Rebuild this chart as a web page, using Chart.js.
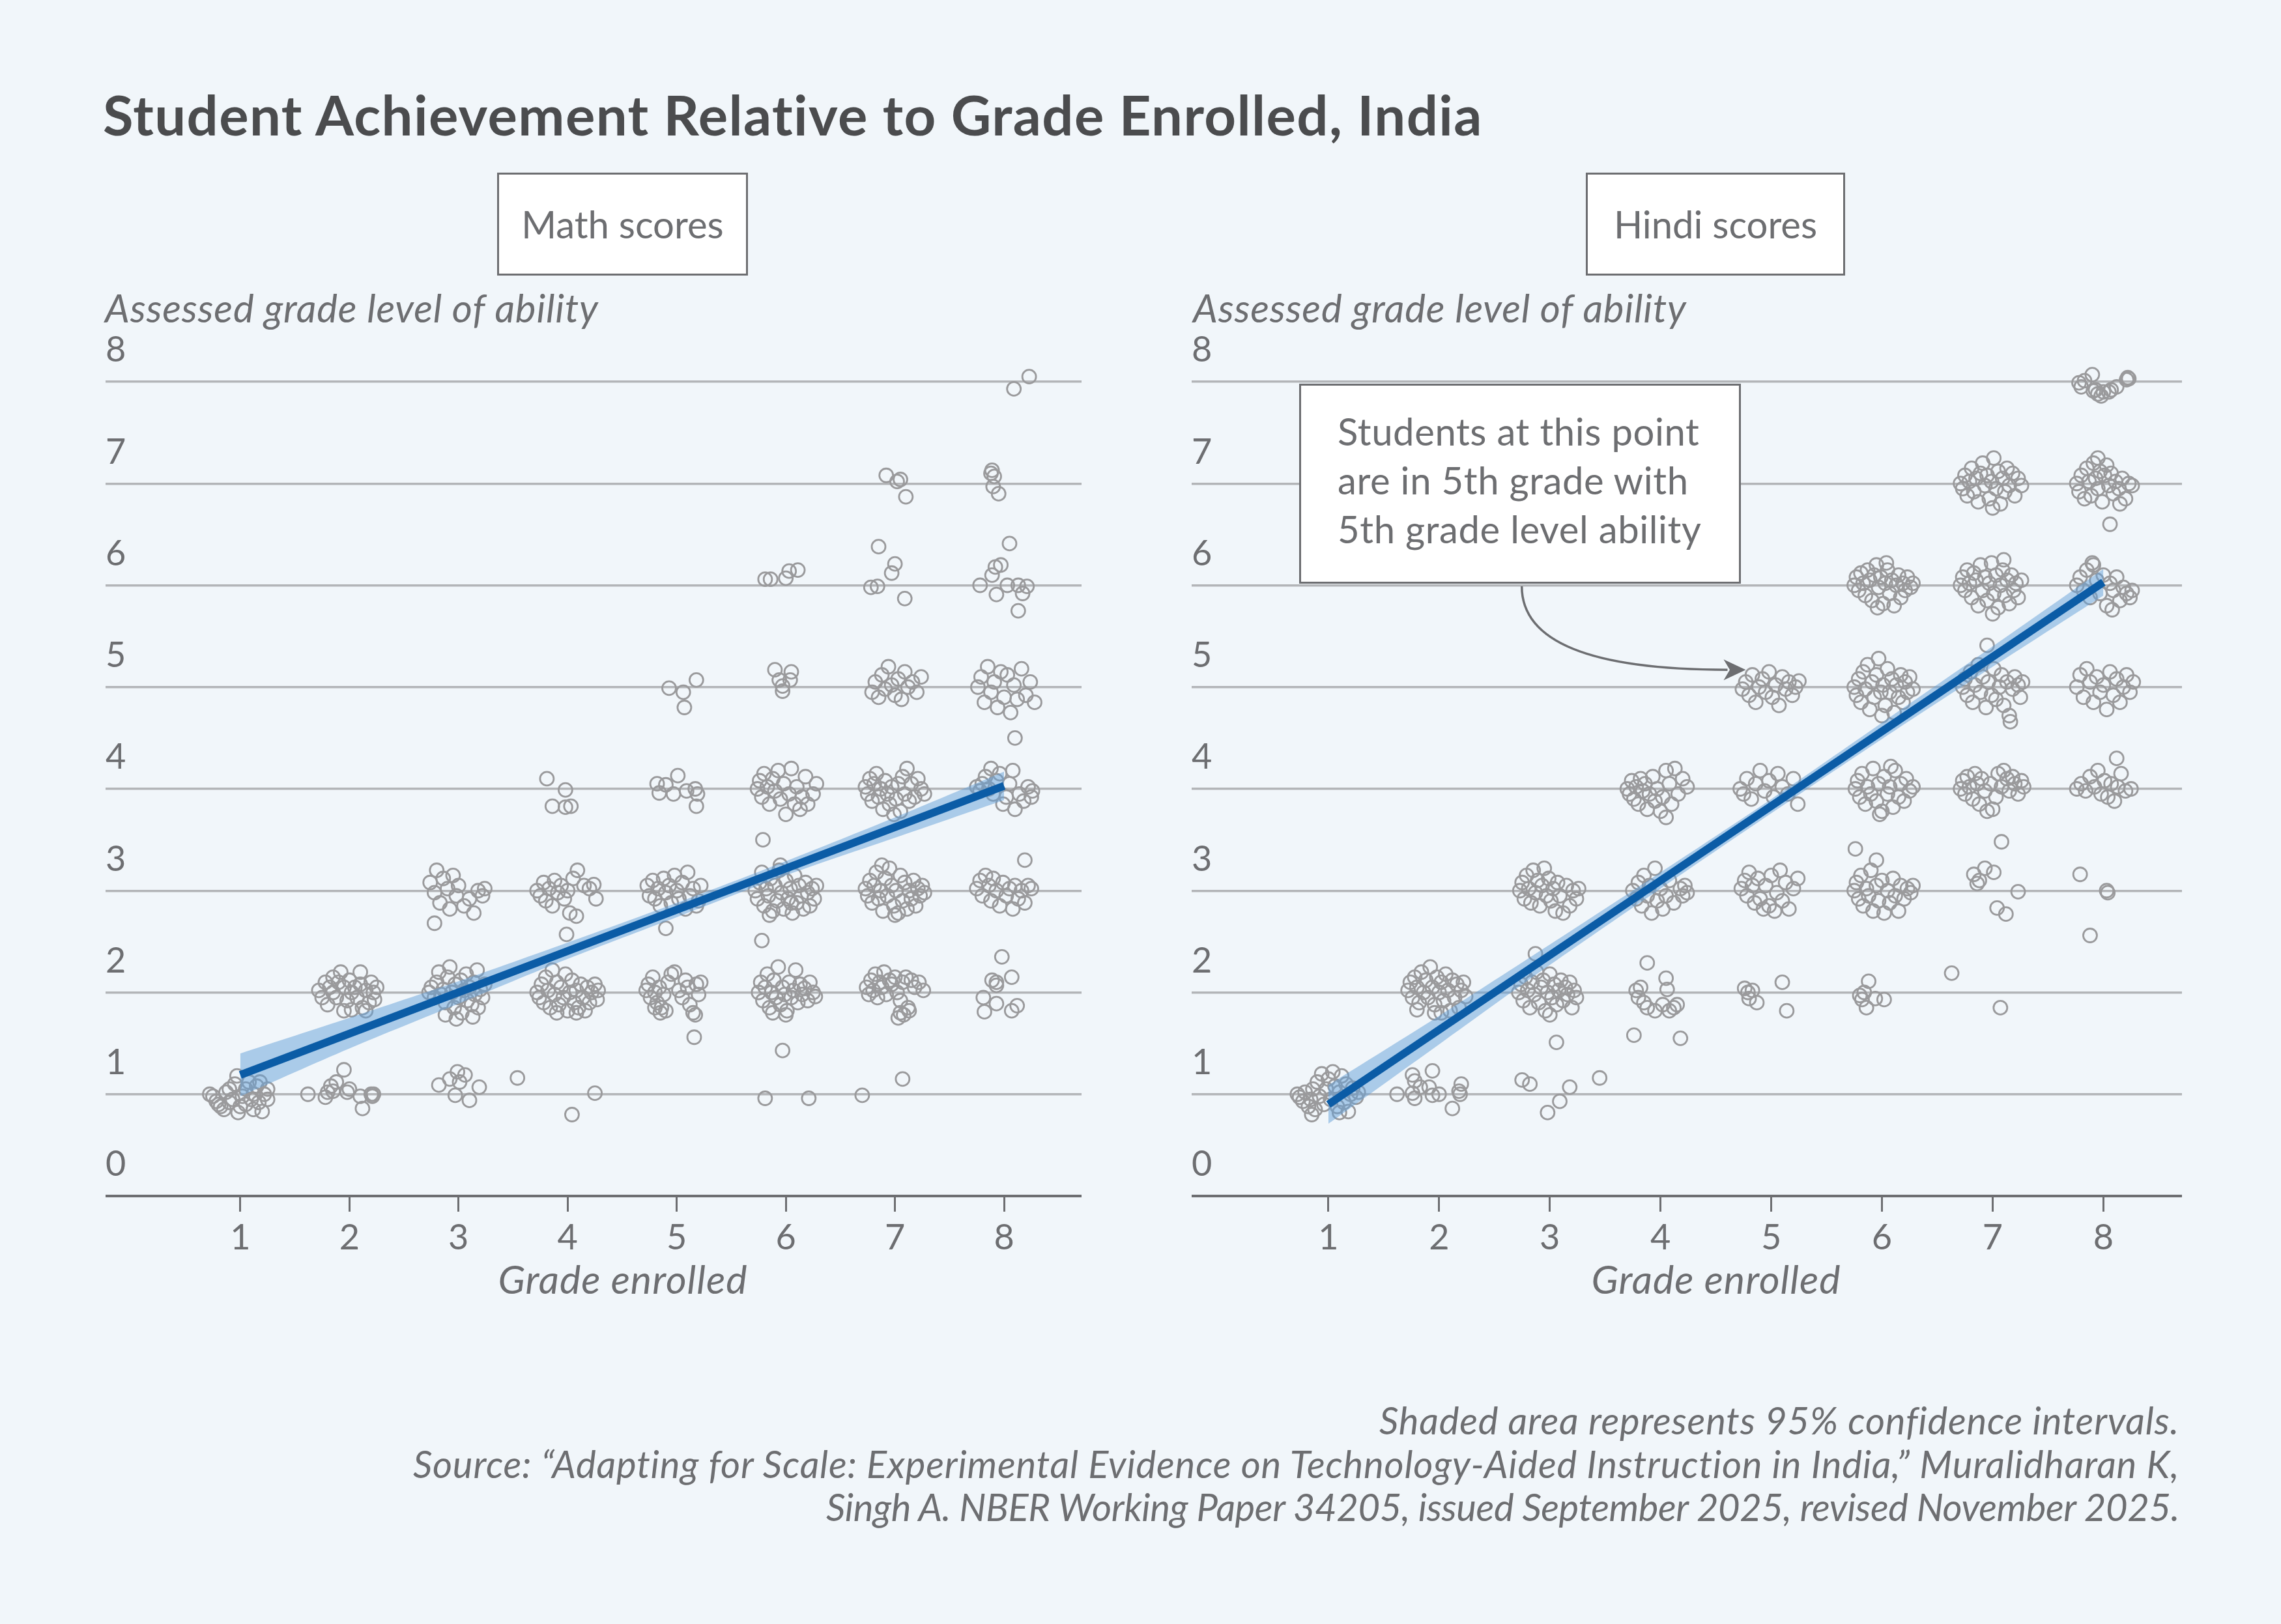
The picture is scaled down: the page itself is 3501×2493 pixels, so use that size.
<!DOCTYPE html>
<html>
<head>
<meta charset="utf-8">
<title>Student Achievement Relative to Grade Enrolled, India</title>
<script src="https://cdn.jsdelivr.net/npm/chart.js@4.4.1/dist/chart.umd.min.js"></script>
<style>
  body { margin: 0; background: #f1f6fa; }
  #page { position: relative; width: 3501px; height: 2493px; background: #f1f6fa; overflow: hidden;
          font-family: Lato, 'Open Sans', sans-serif; color: #6d6e71; }
  .txt { position: absolute; white-space: nowrap; line-height: 1.2; }
  #title { left: 158px; top: 124px; font-size: 85px; font-weight: 700; color: #4b4c4e; letter-spacing: 1.4px; }
  .panel { position: absolute; top: 265px; height: 158px; box-sizing: border-box; border: 3px solid #6d6e71;
           background: #fff; display: flex; align-items: center; justify-content: center;
           font-size: 58px; line-height: 1.2; white-space: nowrap; }
  .ytitle { top: 436px; font-size: 60px; font-style: italic; letter-spacing: 0.8px; }
  .xtitle { top: 1926px; font-size: 61px; font-style: italic; letter-spacing: 1px; transform: translateX(-50%); }
  canvas { position: absolute; }
  #note { position: absolute; left: 1994px; top: 589px; width: 678px; height: 307px; box-sizing: border-box;
          border: 3px solid #6d6e71; background: #fff; padding: 32px 0 0 56px;
          font-size: 58px; line-height: 75px; letter-spacing: 0.6px; white-space: nowrap; }
  #footer { position: absolute; right: 156px; top: 2147px; text-align: right; font-size: 58px;
            line-height: 66.5px; font-style: italic; letter-spacing: 0.8px; white-space: nowrap; }
  #footer .tight { letter-spacing: -0.4px; }
</style>
</head>
<body>
<div id="page">
  <div id="title" class="txt">Student Achievement Relative to Grade Enrolled, India</div>

  <div class="panel" style="left:763px; width:385px;">Math scores</div>
  <div class="panel" style="left:2434px; width:398px;">Hindi scores</div>

  <div class="txt ytitle" style="left:161px;">Assessed grade level of ability</div>
  <div class="txt ytitle" style="left:1831px;">Assessed grade level of ability</div>

  <canvas id="mathChart" width="1498" height="1466" style="left:162px; top:500px;"></canvas>
  <canvas id="hindiChart" width="1520" height="1466" style="left:1829px; top:500px;"></canvas>

  <div class="txt xtitle" style="left:956px;">Grade enrolled</div>
  <div class="txt xtitle" style="left:2634px;">Grade enrolled</div>

  <div id="note">Students at this point<br>are in 5th grade with<br>5th grade level ability</div>

  <div id="footer">Shaded area represents 95% confidence intervals.<br>Source: “Adapting for Scale: Experimental Evidence on Technology-Aided Instruction in India,” Muralidharan K,<br><span class="tight">Singh A. NBER Working Paper 34205, issued September 2025, revised November 2025.</span></div>
</div>

<script>
// axis values
const gradeTicks = [1, 2, 3, 4, 5, 6, 7, 8];
const levelTicks = [0, 1, 2, 3, 4, 5, 6, 7, 8];

// Math scores: [grade enrolled (jittered), assessed level (jittered)]
const mathPoints = [
  // grade 1
  [0.72,1.0],[0.75,0.98],[0.78,0.93],[0.8,0.9],[0.82,0.88],[0.85,0.85],[0.87,1.02],[0.9,1.05],[0.9,0.92],[0.93,0.95],
  [0.95,1.1],[0.97,1.18],[1.0,0.88],[1.02,0.98],[1.05,1.05],[1.05,0.9],[1.08,1.12],[1.1,0.95],[1.12,1.0],[1.15,1.08],
  [1.17,0.92],[1.2,0.83],[1.22,1.0],[1.25,0.95],[1.25,1.05],[1.12,0.85],[0.98,0.82],[1.18,1.12],
  // grade 2
  [1.62,1.0],[1.78,0.97],[1.8,1.02],[1.83,1.08],[1.85,1.03],[1.88,1.12],[1.95,1.24],[1.98,1.02],[2.0,1.05],[2.1,0.98],
  [2.12,0.86],[2.2,1.0],[2.22,1.0],[2.21,0.98],
  [1.72,2.02],[1.75,1.95],[1.78,2.1],[1.8,1.88],[1.82,2.05],[1.85,2.15],[1.85,2.0],[1.88,1.95],[1.9,2.1],[1.92,2.2],
  [1.95,2.05],[1.98,1.92],[2.0,2.12],[2.02,2.0],[2.05,2.05],[2.07,1.95],[2.1,2.2],[2.1,2.08],[2.12,1.85],[2.15,2.02],
  [2.15,1.82],[2.18,1.9],[2.2,2.1],[2.22,2.0],[2.25,2.05],[2.23,1.93],[1.95,1.82],[2.02,1.83],
  // grade 3
  [2.82,1.09],[2.92,1.15],[2.99,1.22],[3.01,1.12],[3.06,1.19],[2.97,0.99],[3.1,0.94],[3.19,1.07],[3.54,1.16],
  [2.73,2.0],[2.75,2.05],[2.78,1.95],[2.8,2.1],[2.82,2.2],[2.84,1.98],[2.86,2.03],[2.88,1.9],[2.9,2.15],[2.92,2.25],
  [2.94,2.0],[2.96,1.85],[2.97,2.08],[3.0,1.95],[3.02,2.12],[3.03,1.8],[3.05,2.02],[3.07,2.18],[3.08,1.92],[3.1,2.05],
  [3.12,1.88],[3.14,2.1],[3.15,1.98],[3.17,2.22],[3.18,1.85],[3.2,2.03],[3.22,1.95],[3.24,2.08],[2.88,1.78],[2.98,1.74],[3.13,1.76],
  [2.74,3.08],[2.78,2.98],[2.8,3.2],[2.83,2.88],[2.86,3.12],[2.9,3.02],[2.92,2.82],[2.95,3.15],[2.98,2.95],[3.0,3.05],
  [3.05,2.85],[3.1,2.92],[3.14,2.78],[3.18,3.0],[3.22,2.95],[3.24,3.02],[2.78,2.68],
  // grade 4
  [4.04,0.8],[4.25,1.01],
  [3.72,2.0],[3.74,1.95],[3.76,2.08],[3.78,1.9],[3.8,2.15],[3.82,2.02],[3.84,1.85],[3.86,2.22],[3.88,1.98],[3.9,2.1],
  [3.92,1.88],[3.94,2.05],[3.96,1.95],[3.98,2.18],[4.0,1.82],[4.02,2.0],[4.04,2.12],[4.06,1.9],[4.08,2.02],[4.1,1.85],
  [4.12,2.08],[4.14,1.95],[4.16,1.82],[4.18,2.05],[4.2,1.9],[4.22,2.0],[4.25,2.08],[4.27,1.93],[4.28,2.02],[3.9,1.8],[4.08,1.8],
  [3.72,3.0],[3.75,2.95],[3.78,3.08],[3.8,2.9],[3.83,3.02],[3.86,2.85],[3.88,3.1],[3.91,2.98],[3.94,3.05],[3.97,2.92],
  [4.0,3.0],[4.02,2.78],[4.05,3.12],[4.08,2.75],[4.09,3.2],[4.15,3.05],[4.2,3.02],[4.24,3.06],[4.26,2.92],[3.99,2.57],
  [3.81,4.1],[3.98,3.99],[3.86,3.83],[3.98,3.82],[4.03,3.83],
  // grade 5
  [4.72,2.02],[4.74,2.08],[4.76,1.95],[4.78,2.15],[4.8,2.0],[4.82,1.9],[4.84,2.05],[4.86,1.85],[4.88,1.98],[4.9,1.82],
  [4.92,2.1],[4.95,2.18],[4.98,2.2],[5.02,2.02],[5.05,1.95],[5.08,2.12],[5.1,2.05],[5.12,1.88],[5.15,1.8],[5.17,1.78],
  [5.18,2.08],[5.2,1.98],[5.22,2.1],[4.8,1.85],[4.85,1.8],[5.16,1.56],
  [4.73,3.05],[4.75,2.95],[4.78,3.1],[4.8,2.92],[4.83,3.02],[4.85,2.85],[4.88,3.12],[4.9,2.98],[4.93,3.05],[4.95,2.88],
  [4.98,3.15],[5.0,3.0],[5.02,2.92],[5.05,3.08],[5.08,2.82],[5.1,3.18],[5.12,2.95],[5.15,3.02],[5.18,2.85],[5.2,2.9],
  [5.22,3.05],[4.9,2.63],
  [4.82,4.05],[4.9,4.04],[5.01,4.13],[4.84,3.96],[4.97,3.95],[5.09,3.98],[5.17,4.0],[5.19,3.95],[5.18,3.83],
  [4.93,4.99],[5.06,4.95],[5.18,5.07],[5.07,4.8],
  // grade 6
  [5.81,0.96],[6.21,0.96],[5.97,1.43],
  [5.75,2.0],[5.77,2.1],[5.79,1.92],[5.81,2.05],[5.83,2.18],[5.85,1.85],[5.87,2.0],[5.89,2.12],[5.91,1.95],[5.93,2.25],
  [5.95,1.88],[5.97,2.05],[5.99,1.98],[6.01,1.82],[6.03,2.1],[6.05,1.95],[6.07,2.02],[6.09,2.22],[6.11,1.9],[6.13,2.08],
  [6.15,1.98],[6.17,2.04],[6.2,1.92],[6.22,2.1],[6.25,2.0],[6.27,1.96],[5.88,1.8],[6.0,1.78],[5.78,2.51],
  [5.72,3.0],[5.74,2.92],[5.76,3.08],[5.78,3.18],[5.8,2.85],[5.82,3.02],[5.84,2.95],[5.86,3.12],[5.88,2.8],[5.9,3.05],
  [5.92,2.9],[5.94,3.2],[5.96,2.98],[5.98,2.82],[6.0,3.1],[6.02,2.92],[6.04,3.02],[6.06,2.78],[6.08,3.15],[6.1,2.88],
  [6.12,3.05],[6.14,2.95],[6.16,2.82],[6.18,3.08],[6.2,2.98],[6.22,2.85],[6.24,3.02],[6.26,2.92],[6.28,3.05],[5.85,2.76],
  [5.95,3.25],[6.05,2.88],[5.79,3.5],
  [5.74,4.0],[5.76,4.08],[5.78,3.92],[5.8,4.15],[5.83,4.02],[5.85,3.85],[5.88,4.1],[5.9,3.98],[5.93,4.18],[5.95,3.9],
  [5.98,4.05],[6.0,3.75],[6.03,3.95],[6.05,4.2],[6.08,3.85],[6.1,4.02],[6.13,3.8],[6.15,3.92],[6.18,4.12],[6.2,3.85],
  [6.25,3.95],[6.28,4.05],
  [5.9,5.17],[6.05,5.15],[5.94,5.07],[6.04,5.07],[5.97,5.01],[5.97,4.96],
  [5.81,6.06],[5.86,6.06],[6.0,6.07],[6.03,6.14],[6.11,6.15],
  // grade 7
  [6.7,0.99],[7.07,1.15],
  [6.74,2.05],[6.76,1.98],[6.78,2.12],[6.8,2.02],[6.82,2.18],[6.84,1.95],[6.86,2.1],[6.88,2.05],[6.9,2.2],[6.92,1.98],
  [6.95,2.12],[6.97,2.08],[7.0,2.15],[7.02,2.0],[7.05,1.92],[7.07,2.1],[7.1,2.15],[7.12,1.85],[7.15,2.12],[7.18,2.05],
  [7.22,2.1],[7.26,2.02],[7.05,1.8],[7.08,1.78],[7.03,1.75],[7.13,1.82],
  [6.73,3.02],[6.75,2.95],[6.77,3.1],[6.79,2.88],[6.81,3.05],[6.83,3.18],[6.85,2.92],[6.87,3.0],[6.89,2.8],[6.91,3.12],
  [6.93,2.95],[6.95,3.22],[6.97,3.05],[6.99,2.85],[7.01,3.0],[7.03,2.78],[7.05,3.15],[7.07,2.9],[7.09,3.08],[7.11,2.82],
  [7.13,3.0],[7.15,2.92],[7.17,3.1],[7.19,2.85],[7.21,3.02],[7.23,2.95],[7.25,3.05],[7.27,2.98],[6.88,3.25],[7.0,2.76],
  [6.73,4.02],[6.75,3.95],[6.77,4.1],[6.79,3.88],[6.81,4.05],[6.83,4.15],[6.85,3.92],[6.87,4.0],[6.89,3.8],[6.91,4.08],
  [6.93,3.95],[6.95,3.85],[6.97,4.02],[6.99,3.75],[7.01,3.9],[7.03,4.05],[7.05,3.78],[7.07,4.12],[7.09,3.95],[7.11,4.2],
  [7.13,3.88],[7.15,4.05],[7.18,3.92],[7.21,4.1],[7.24,4.0],[7.27,3.95],
  [6.79,4.95],[6.82,5.05],[6.85,4.9],[6.88,5.12],[6.91,4.98],[6.94,5.2],[6.97,5.02],[7.0,4.92],[7.03,5.08],[7.06,4.88],
  [7.09,5.15],[7.12,5.0],[7.16,5.05],[7.2,4.95],[7.24,5.1],
  [6.85,6.38],[7.0,6.21],[6.97,6.12],[6.78,5.98],[6.84,5.99],[7.09,5.87],
  [6.92,7.08],[7.02,7.02],[7.05,7.04],[7.1,6.87],
  // grade 8
  [7.98,2.35],[7.93,2.1],[7.89,2.12],[7.93,2.07],[8.07,2.15],[7.81,1.95],[7.93,1.89],[8.12,1.87],[7.82,1.81],[8.07,1.82],
  [7.75,3.02],[7.78,3.1],[7.8,2.95],[7.83,3.15],[7.86,3.05],[7.88,2.9],[7.9,3.12],[7.93,3.0],[7.96,2.85],[7.99,3.08],
  [8.02,2.95],[8.05,3.02],[8.08,2.82],[8.1,3.05],[8.13,2.92],[8.16,3.0],[8.19,2.88],[8.22,3.05],[8.25,3.02],[8.19,3.3],
  [7.75,4.02],[7.78,3.98],[7.8,4.05],[7.83,4.12],[7.86,4.0],[7.88,4.2],[7.9,3.95],[7.93,4.08],[7.96,4.15],[7.99,3.85],
  [8.02,3.92],[8.05,4.05],[8.08,4.18],[8.1,3.8],[8.14,3.95],[8.18,3.88],[8.22,4.02],[8.25,3.92],[8.26,3.98],[8.1,4.5],
  [7.76,5.0],[7.79,5.1],[7.82,4.85],[7.85,5.2],[7.88,4.95],[7.91,5.05],[7.94,4.8],[7.97,5.15],[8.0,4.9],[8.03,5.12],
  [8.06,4.75],[8.09,5.02],[8.12,4.88],[8.16,5.18],[8.2,4.92],[8.24,5.05],[8.28,4.85],
  [8.05,6.41],[7.97,6.2],[7.92,6.18],[7.89,6.1],[7.78,6.0],[8.03,6.0],[7.93,5.91],[8.13,6.0],[8.17,5.92],[8.21,5.99],[8.13,5.75],
  [7.89,7.13],[7.91,7.07],[7.9,6.97],[7.95,6.9],[7.88,7.1],
  [8.09,7.93],[8.23,8.05]
];

// Hindi scores
const hindiPoints = [
  // grade 1
  [0.72,1.0],[0.74,0.97],[0.77,0.93],[0.79,1.02],[0.82,0.88],[0.84,0.95],[0.86,1.05],[0.88,0.85],[0.9,1.12],[0.92,0.98],
  [0.94,1.2],[0.96,0.9],[0.98,1.05],[1.0,1.15],[1.02,0.95],[1.04,1.22],[1.06,1.08],[1.08,0.88],[1.1,1.02],[1.12,1.18],
  [1.14,0.92],[1.16,1.1],[1.18,0.83],[1.2,1.0],[1.22,1.06],[1.25,0.97],[1.27,1.02],[1.1,0.82],[0.85,0.8],
  // grade 2
  [1.62,1.0],[1.76,1.19],[1.78,1.13],[1.76,1.01],[1.78,0.96],[1.83,1.07],[1.91,1.07],[1.94,1.23],[1.94,0.99],[2.0,1.0],
  [2.12,0.86],[2.18,1.03],[2.2,1.1],[2.19,1.0],
  [1.72,2.02],[1.74,2.1],[1.76,1.95],[1.78,2.15],[1.8,2.05],[1.82,1.9],[1.84,2.2],[1.86,2.0],[1.88,2.12],[1.9,1.95],
  [1.92,2.25],[1.94,2.05],[1.96,1.88],[1.98,2.15],[2.0,2.0],[2.02,2.1],[2.04,1.92],[2.06,2.18],[2.08,2.02],[2.1,1.82],
  [2.12,2.12],[2.14,1.95],[2.16,2.08],[2.18,1.85],[2.2,2.02],[2.22,2.1],[2.24,1.96],[1.96,1.8],[2.02,1.8],[1.8,1.83],
  // grade 3
  [2.75,1.14],[2.82,1.1],[3.18,1.07],[3.09,0.93],[2.98,0.82],[3.45,1.16],[3.06,1.51],
  [2.72,2.0],[2.74,2.08],[2.76,1.92],[2.78,2.15],[2.8,2.02],[2.82,1.85],[2.84,2.1],[2.86,1.98],[2.88,2.2],[2.9,1.9],
  [2.92,2.05],[2.94,2.12],[2.96,1.82],[2.98,2.0],[3.0,2.18],[3.02,1.95],[3.04,2.08],[3.06,1.88],[3.08,2.02],[3.1,2.12],
  [3.12,1.92],[3.14,2.05],[3.16,1.98],[3.18,2.1],[3.2,1.85],[3.22,2.02],[3.24,1.95],[3.0,1.78],[2.87,2.38],
  [2.73,3.0],[2.75,3.08],[2.77,2.92],[2.79,3.15],[2.81,3.02],[2.83,2.88],[2.85,3.2],[2.87,2.98],[2.89,3.1],[2.91,2.85],
  [2.93,3.05],[2.95,3.22],[2.97,2.95],[2.99,3.12],[3.01,2.9],[3.03,3.02],[3.05,2.8],[3.07,3.08],[3.09,2.95],[3.12,2.78],
  [3.15,3.05],[3.18,2.85],[3.21,3.0],[3.24,2.92],[3.26,3.02],
  // grade 4
  [3.76,1.58],[4.18,1.55],
  [3.88,2.29],[4.05,2.14],[4.06,2.03],[3.78,2.02],[3.8,1.95],[3.82,2.05],[3.85,1.9],[3.88,1.85],[3.95,1.82],[4.02,1.88],
  [4.08,1.82],[4.12,1.85],[4.15,1.88],
  [3.75,3.0],[3.78,2.92],[3.8,3.08],[3.83,2.85],[3.85,3.15],[3.88,2.95],[3.9,3.05],[3.92,2.78],[3.95,3.22],[3.97,2.9],
  [4.0,3.02],[4.02,2.82],[4.05,2.95],[4.08,3.1],[4.12,2.88],[4.18,3.02],[4.2,2.95],[4.22,3.05],[4.24,2.98],
  [3.7,4.0],[3.72,3.95],[3.74,4.08],[3.76,3.9],[3.78,4.02],[3.8,3.85],[3.82,4.1],[3.84,3.98],[3.86,4.05],[3.88,3.8],
  [3.9,3.95],[3.93,4.12],[3.95,3.88],[3.97,4.0],[4.0,3.78],[4.02,3.92],[4.05,4.18],[4.08,4.05],[4.1,3.85],[4.13,4.2],
  [4.16,3.95],[4.2,4.1],[4.24,4.02],[4.05,3.72],
  // grade 5
  [4.76,2.04],[4.79,2.0],[4.83,2.02],[4.8,1.94],[4.87,1.9],[5.1,2.1],[5.14,1.82],
  [4.73,3.02],[4.76,3.1],[4.78,2.95],[4.8,3.18],[4.83,3.05],[4.85,2.88],[4.88,3.12],[4.9,2.92],[4.93,2.82],[4.95,3.05],
  [4.98,2.85],[5.0,3.15],[5.03,2.8],[5.05,2.98],[5.08,3.2],[5.1,2.9],[5.13,3.08],[5.16,2.82],[5.2,3.02],[5.24,3.12],
  [4.72,4.0],[4.75,3.95],[4.78,4.1],[4.82,3.9],[4.86,4.05],[4.9,4.18],[4.94,3.98],[4.98,4.08],[5.02,3.92],[5.06,4.15],
  [5.1,4.02],[5.15,3.95],[5.2,4.1],[5.24,3.85],
  [4.74,4.98],[4.77,5.05],[4.8,4.92],[4.83,5.12],[4.86,4.85],[4.89,5.0],[4.92,5.08],[4.95,4.95],[4.98,5.15],[5.01,4.9],
  [5.04,5.02],[5.07,4.82],[5.1,5.1],[5.13,4.98],[5.16,5.05],[5.19,4.92],[5.22,5.0],[5.25,5.06],
  // grade 6
  [5.88,2.11],[5.8,1.97],[5.82,1.93],[5.86,1.85],[5.94,1.94],[6.02,1.93],[5.84,2.0],
  [5.75,3.0],[5.77,3.08],[5.79,2.92],[5.81,3.15],[5.83,2.85],[5.86,3.02],[5.88,2.95],[5.9,3.2],[5.92,2.8],[5.95,3.05],
  [5.97,2.9],[6.0,3.1],[6.02,2.78],[6.05,3.0],[6.07,2.88],[6.1,3.12],[6.12,2.95],[6.15,2.8],[6.17,3.05],[6.2,2.92],
  [6.23,3.02],[6.26,2.98],[6.28,3.05],[5.95,3.3],[5.76,3.41],
  [5.76,4.0],[5.78,4.08],[5.8,3.92],[5.82,4.15],[5.85,3.85],[5.87,4.02],[5.9,3.95],[5.92,4.2],[5.95,3.88],[5.97,4.05],
  [6.0,3.78],[6.02,4.12],[6.05,3.95],[6.07,4.02],[6.1,3.82],[6.12,4.18],[6.15,3.92],[6.17,4.05],[6.2,3.88],[6.22,4.1],
  [6.25,3.98],[6.28,4.02],[5.98,3.75],[6.08,4.22],
  [5.75,5.0],[5.77,4.92],[5.79,5.08],[5.81,4.85],[5.83,5.15],[5.85,4.98],[5.87,5.22],[5.89,4.78],[5.91,5.05],[5.93,4.9],
  [5.95,5.12],[5.97,5.28],[5.99,4.95],[6.01,5.02],[6.03,4.82],[6.05,5.18],[6.07,4.95],[6.09,5.08],[6.11,4.75],[6.13,5.02],
  [6.15,4.9],[6.17,5.12],[6.19,4.85],[6.21,5.05],[6.23,4.95],[6.25,5.1],[6.28,4.98],[6.0,4.72],
  [5.75,6.0],[5.77,6.08],[5.79,5.95],[5.81,6.12],[5.83,6.02],[5.85,5.9],[5.87,6.15],[5.89,6.05],[5.91,5.85],[5.93,6.1],
  [5.95,6.2],[5.97,5.98],[5.99,6.08],[6.01,5.82],[6.03,6.02],[6.05,6.15],[6.07,5.92],[6.09,6.05],[6.11,5.8],[6.13,6.0],
  [6.15,6.1],[6.17,5.88],[6.19,6.02],[6.21,5.95],[6.23,6.08],[6.26,5.98],[6.28,6.02],[5.96,5.78],[6.04,6.22],
  // grade 7
  [6.63,2.19],[7.07,1.85],
  [6.83,3.16],[6.88,3.1],[6.86,3.07],[6.93,3.22],[7.01,3.18],[7.23,2.99],[7.04,2.83],[7.12,2.77],[7.08,3.48],
  [6.71,4.0],[6.73,4.08],[6.75,3.95],[6.77,4.12],[6.79,4.02],[6.82,3.9],[6.84,4.15],[6.86,4.05],[6.88,3.85],[6.9,4.1],
  [6.93,3.98],[6.95,3.78],[6.98,4.05],[7.0,3.8],[7.03,3.92],[7.05,4.15],[7.08,4.02],[7.1,4.18],[7.13,4.1],[7.15,3.98],
  [7.18,4.12],[7.2,4.05],[7.23,3.95],[7.26,4.08],[7.28,4.02],
  [6.73,5.0],[6.75,5.08],[6.77,4.92],[6.8,5.15],[6.82,4.85],[6.84,5.02],[6.87,5.22],[6.89,4.95],[6.91,5.1],[6.94,4.8],
  [6.96,5.05],[6.99,4.92],[7.01,5.18],[7.03,4.88],[7.06,5.0],[7.08,5.12],[7.1,4.82],[7.13,5.05],[7.15,4.72],[7.18,4.98],
  [7.2,5.1],[7.23,5.02],[7.25,4.9],[7.27,5.05],[6.95,5.41],[7.16,4.66],
  [6.71,6.0],[6.73,6.08],[6.75,5.95],[6.77,6.15],[6.79,6.02],[6.81,5.88],[6.83,6.12],[6.85,6.05],[6.87,5.8],[6.89,6.2],
  [6.91,5.95],[6.93,6.08],[6.95,5.85],[6.97,6.02],[6.99,6.22],[7.01,5.92],[7.03,6.1],[7.05,5.78],[7.07,6.0],[7.09,6.15],
  [7.11,5.9],[7.13,6.05],[7.15,5.82],[7.17,6.1],[7.19,5.95],[7.21,6.02],[7.23,5.88],[7.26,6.05],[7.0,5.72],[7.1,6.25],
  [6.71,7.0],[6.73,6.95],[6.75,7.08],[6.77,6.88],[6.79,7.02],[6.81,7.15],[6.83,6.92],[6.85,7.05],[6.87,6.82],[6.89,7.1],
  [6.91,7.2],[6.93,6.98],[6.95,7.08],[6.97,6.85],[6.99,7.02],[7.01,7.25],[7.03,6.95],[7.05,7.12],[7.07,6.8],[7.09,7.05],
  [7.11,6.92],[7.13,7.15],[7.15,6.98],[7.18,7.1],[7.2,6.88],[7.23,7.05],[7.26,6.98],[7.0,6.76],
  // grade 8
  [7.79,3.16],[8.03,3.0],[8.04,2.98],[7.88,2.56],
  [7.76,4.0],[7.8,4.05],[7.84,3.98],[7.88,4.12],[7.92,4.02],[7.95,4.18],[7.98,3.95],[8.01,4.08],[8.04,3.92],[8.07,4.05],
  [8.1,3.88],[8.13,4.02],[8.16,4.15],[8.2,3.98],[8.25,4.0],[8.12,4.3],
  [7.76,5.0],[7.79,5.12],[7.82,4.9],[7.85,5.18],[7.88,5.05],[7.91,4.85],[7.94,5.1],[7.97,4.95],[8.0,5.02],[8.03,4.78],
  [8.06,5.15],[8.09,4.92],[8.12,5.08],[8.15,4.85],[8.18,5.0],[8.21,5.12],[8.24,4.95],[8.27,5.05],
  [7.76,6.0],[7.79,6.08],[7.82,5.95],[7.85,6.15],[7.88,5.88],[7.91,6.2],[7.94,6.05],[7.97,5.92],[8.0,6.1],[8.03,5.8],
  [8.06,6.02],[8.09,5.95],[8.12,6.08],[8.15,5.85],[8.18,5.98],[8.21,5.92],[8.24,5.88],[8.26,5.95],[7.9,6.22],[8.08,5.76],
  [8.06,6.6],
  [7.76,7.0],[7.78,6.92],[7.8,7.08],[7.83,6.85],[7.85,7.15],[7.87,7.02],[7.89,6.88],[7.91,7.2],[7.93,7.05],[7.95,6.95],
  [7.97,7.12],[7.99,6.82],[8.01,7.08],[8.03,7.18],[8.05,6.98],[8.07,7.1],[8.09,6.9],[8.11,7.02],[8.14,6.95],[8.17,7.05],
  [8.2,6.85],[8.23,7.0],[8.26,6.98],[7.95,7.25],[8.15,6.8],
  [7.78,7.99],[7.83,8.01],[7.86,8.17],[7.9,8.07],[7.91,7.91],[7.95,7.88],[7.93,7.92],[8.0,7.9],[8.05,7.9],[8.07,7.92],
  [8.12,7.95],[8.21,8.02],[8.22,8.04],[8.23,8.03],[7.8,7.95],[7.98,7.86]
];

// fitted lines and 95% confidence bands (values at grades 1..8)
const mathFit = [[1, 1.19], [8, 4.03]];
const mathUpper = [1.40, 1.75, 2.11, 2.49, 2.88, 3.29, 3.72, 4.17];
const mathLower = [0.98, 1.45, 1.89, 2.33, 2.74, 3.15, 3.52, 3.89];

const hindiFit = [[1, 0.90], [8, 6.03]];
const hindiUpper = [1.09, 1.77, 2.47, 3.18, 3.90, 4.65, 5.40, 6.16];
const hindiLower = [0.71, 1.49, 2.27, 3.02, 3.76, 4.49, 5.20, 5.90];

// callout arrow, in data units of the Hindi panel
const arrowFrom = [2.747, 5.99];
const arrowTo = [4.77, 5.17];

const textGray = '#6d6e71';

function toXY(list) {
    return list.map(p => ({ x: p[0], y: p[1] }));
}

function bandXY(values) {
    return gradeTicks.map((g, i) => ({ x: g, y: values[i] }));
}

const arrowPlugin = {
    id: 'calloutArrow',
    afterDatasetsDraw(chart) {
        const { ctx, scales: { x, y } } = chart;
        const x0 = x.getPixelForValue(arrowFrom[0]), y0 = y.getPixelForValue(arrowFrom[1]);
        const x1 = x.getPixelForValue(arrowTo[0]), y1 = y.getPixelForValue(arrowTo[1]);
        const head = 34, half = 16;
        ctx.save();
        ctx.strokeStyle = textGray;
        ctx.fillStyle = textGray;
        ctx.lineWidth = 3.5;
        ctx.beginPath();
        ctx.moveTo(x0, y0);
        ctx.quadraticCurveTo(x0, y1, x1 - head + 6, y1);
        ctx.stroke();
        ctx.beginPath();
        ctx.moveTo(x1, y1);
        ctx.lineTo(x1 - head, y1 - half);
        ctx.lineTo(x1 - head * 0.72, y1);
        ctx.lineTo(x1 - head, y1 + half);
        ctx.closePath();
        ctx.fill();
        ctx.restore();
    }
};

function makePanel(id, points, fit, upper, lower, plugins) {
    const el = document.getElementById(id);
    return new Chart(el, {
        type: 'scatter',
        data: {
            datasets: [
                {
                    type: 'line',
                    data: toXY(fit),
                    borderColor: '#0b5ca6',
                    borderWidth: 12,
                    pointRadius: 0,
                    fill: false,
                    order: 0
                },
                {
                    type: 'line',
                    data: bandXY(upper),
                    borderColor: 'rgba(0,0,0,0)',
                    borderWidth: 0,
                    backgroundColor: 'rgba(100,160,215,0.5)',
                    pointRadius: 0,
                    tension: 0.3,
                    fill: '+1',
                    order: 1
                },
                {
                    type: 'line',
                    data: bandXY(lower),
                    borderColor: 'rgba(0,0,0,0)',
                    borderWidth: 0,
                    pointRadius: 0,
                    tension: 0.3,
                    fill: false,
                    order: 1
                },
                {
                    data: toXY(points),
                    pointRadius: 10.5,
                    pointBorderWidth: 2.8,
                    borderColor: '#9a9a9c',
                    pointBorderColor: '#9a9a9c',
                    backgroundColor: 'rgba(0,0,0,0)',
                    pointBackgroundColor: 'rgba(0,0,0,0)',
                    clip: false,
                    order: 2
                }
            ]
        },
        options: {
            responsive: false,
            devicePixelRatio: 1,
            animation: false,
            events: [],
            layout: { autoPadding: false, padding: { top: 86, left: 0, right: 0, bottom: 0 } },
            plugins: {
                legend: { display: false },
                tooltip: { enabled: false }
            },
            scales: {
                x: {
                    type: 'linear',
                    min: -0.235,
                    max: 8.71,
                    afterBuildTicks: s => { s.ticks = gradeTicks.map(v => ({ value: v })); },
                    afterFit: s => { s.height = 130; },
                    border: { display: true, color: textGray, width: 4 },
                    grid: { drawOnChartArea: false, drawTicks: true, tickLength: 24, color: textGray, lineWidth: 3 },
                    ticks: {
                        padding: 8,
                        color: textGray,
                        autoSkip: false,
                        maxRotation: 0,
                        font: { family: 'Lato', size: 54 }
                    }
                },
                y: {
                    min: 0,
                    max: 8,
                    afterBuildTicks: s => { s.ticks = levelTicks.map(v => ({ value: v })); },
                    afterFit: s => { s.width = 0; },
                    border: { display: false },
                    grid: {
                        drawTicks: false,
                        lineWidth: 3.5,
                        color: c => (c.tick && c.tick.value === 0) ? 'rgba(0,0,0,0)' : '#b3b5b8'
                    },
                    ticks: {
                        mirror: true,
                        padding: 0,
                        labelOffset: -48,
                        color: textGray,
                        font: { family: 'Lato', size: 54 }
                    }
                }
            }
        },
        plugins: plugins || []
    });
}

document.fonts.load('54px Lato').then(function() {
    makePanel('mathChart', mathPoints, mathFit, mathUpper, mathLower);
    makePanel('hindiChart', hindiPoints, hindiFit, hindiUpper, hindiLower, [arrowPlugin]);
});
</script>
</body>
</html>
